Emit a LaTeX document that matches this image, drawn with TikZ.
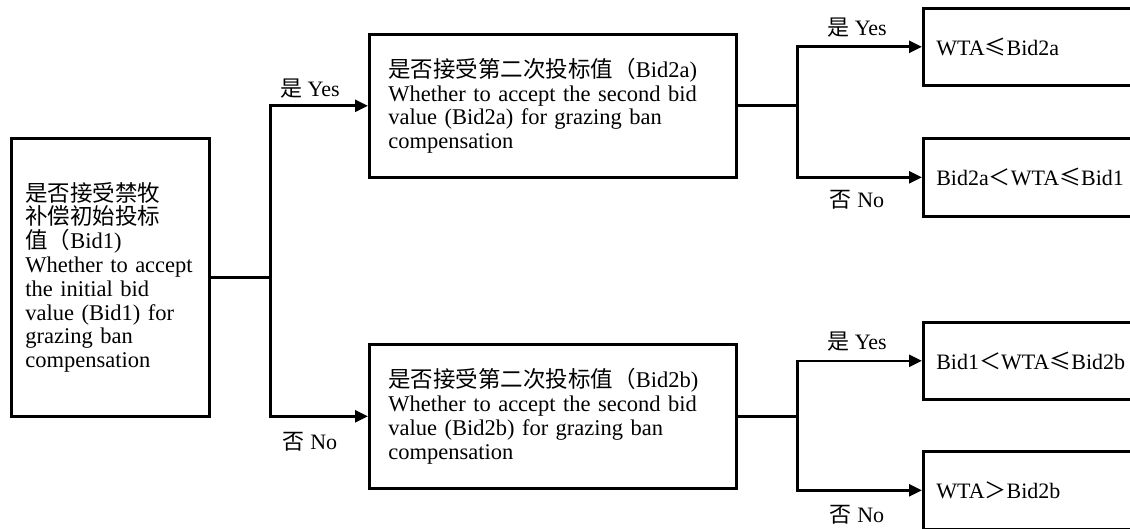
\documentclass[tikz,border=0pt]{standalone}
\usepackage{fontspec}
\setmainfont{Liberation Serif}
\newfontfamily\cjk{Noto Sans CJK SC}[Scale=1.0]
\usetikzlibrary{arrows.meta}
\begin{document}
\begin{tikzpicture}[x=1pt,y=1pt,
  box/.style={draw, line width=2.6pt, anchor=north west, align=left, inner ysep=0pt},
  conn/.style={line width=2.6pt},
  arr/.style={conn, -{Triangle[length=13pt,width=12pt]}},
  lbl/.style={font=\fontsize{22}{24}\selectfont, inner sep=0pt},
  txt/.style={font=\fontsize{22.5}{23.8}\selectfont},
  rtxt/.style={font=\fontsize{22}{24}\selectfont}
]
\useasboundingbox (0,0) rectangle (1130,-529);
% left box
\node[box, txt, minimum width=198, minimum height=278, text width=170, inner xsep=14] (b1) at (10,-137)
  {{\cjk 是否接受禁牧}\\{\cjk 补偿初始投标}\\{\cjk 值（}Bid1)\\Whether to accept\\the initial bid\\value (Bid1) for\\grazing ban\\compensation};
% middle boxes
\node[box, txt, minimum width=367, minimum height=143, text width=329, inner xsep=19] (m1) at (368,-33)
  {{\cjk 是否接受第二次投标值（}Bid2a)\\Whether to accept the second bid\\value (Bid2a) for grazing ban\\compensation};
\node[box, txt, minimum width=367, minimum height=144, text width=329, inner xsep=19] (m2) at (368,-343)
  {{\cjk 是否接受第二次投标值（}Bid2b)\\Whether to accept the second bid\\value (Bid2b) for grazing ban\\compensation};
% right boxes
\node[box, rtxt, minimum width=240, minimum height=77, text width=214, inner xsep=13] (r1) at (922,-7)
  {WTA{\cjk ≤}Bid2a};
\node[box, rtxt, minimum width=240, minimum height=78, text width=214, inner xsep=13] (r2) at (922,-137)
  {Bid2a{\cjk ＜}WTA{\cjk ≤}Bid1};
\node[box, rtxt, minimum width=240, minimum height=77, text width=214, inner xsep=13] (r3) at (922,-321)
  {Bid1{\cjk ＜}WTA{\cjk ≤}Bid2b};
\node[box, rtxt, minimum width=240, minimum height=78, text width=214, inner xsep=13] (r4) at (922,-450)
  {WTA{\cjk ＞}Bid2b};
% connectors
\draw[conn] (b1.east) -- ++(60,0) coordinate (j1);
\draw[arr] (j1) |- (m1.west);
\draw[arr] (j1) |- (m2.west);
\draw[conn] (m1.east) -- ++(60,0) coordinate (j2);
\draw[arr] (j2) |- (r1.west);
\draw[arr] (j2) |- (r2.west);
\draw[conn] (m2.east) -- ++(60,0) coordinate (j3);
\draw[arr] (j3) |- (r3.west);
\draw[arr] (j3) |- (r4.west);
% labels
\node[lbl] (l1) at (310,-89) {{\cjk 是} Yes};
\node[lbl] (l2) at (310,-442) {{\cjk 否} No};
\node[lbl] (l3) at (857,-28) {{\cjk 是} Yes};
\node[lbl] (l4) at (857,-200) {{\cjk 否} No};
\node[lbl] (l5) at (857,-342) {{\cjk 是} Yes};
\node[lbl] (l6) at (857,-515) {{\cjk 否} No};
\end{tikzpicture}
\end{document}
